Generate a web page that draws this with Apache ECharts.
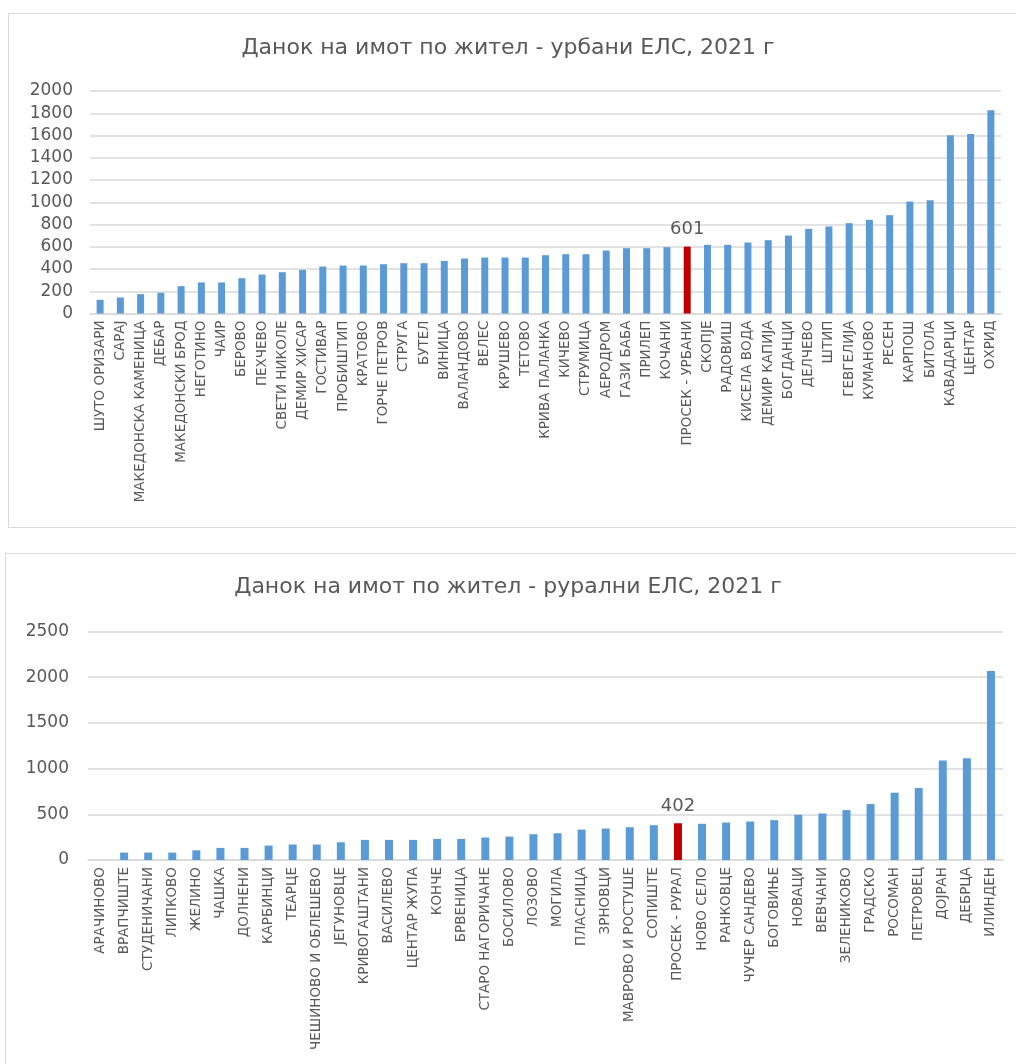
<!DOCTYPE html>
<html>
<head>
<meta charset="utf-8">
<script src="https://cdn.jsdelivr.net/npm/echarts@6/dist/echarts.min.js"></script>
<style>
  html, body { margin: 0; padding: 0; background: #fff; }
  #wrap { position: relative; width: 1016px; height: 1064px; overflow: hidden; }
  .panel { position: absolute; border: 1.5px solid #d9d9d9; box-sizing: border-box; }
  #chart { position: absolute; left: 0; top: 0; width: 1016px; height: 1064px; }
</style>
</head>
<body>
<div id="wrap">
  <div class="panel" style="left:8px; top:13px; width:1030px; height:515px;"></div>
  <div class="panel" style="left:5px; top:553px; width:1030px; height:540px;"></div>
  <div id="chart"></div>
</div>
<script>
// ---------- Data: urban municipalities ----------
const urbanTitle = 'Данок на имот по жител - урбани ЕЛС, 2021 г';
const urbanCategories = [
  'ШУТО ОРИЗАРИ', 'САРАЈ', 'МАКЕДОНСКА КАМЕНИЦА', 'ДЕБАР', 'МАКЕДОНСКИ БРОД',
  'НЕГОТИНО', 'ЧАИР', 'БЕРОВО', 'ПЕХЧЕВО', 'СВЕТИ НИКОЛЕ', 'ДЕМИР ХИСАР',
  'ГОСТИВАР', 'ПРОБИШТИП', 'КРАТОВО', 'ГОРЧЕ ПЕТРОВ', 'СТРУГА', 'БУТЕЛ',
  'ВИНИЦА', 'ВАЛАНДОВО', 'ВЕЛЕС', 'КРУШЕВО', 'ТЕТОВО', 'КРИВА ПАЛАНКА',
  'КИЧЕВО', 'СТРУМИЦА', 'АЕРОДРОМ', 'ГАЗИ БАБА', 'ПРИЛЕП', 'КОЧАНИ',
  'ПРОСЕК - УРБАНИ', 'СКОПЈЕ', 'РАДОВИШ', 'КИСЕЛА ВОДА', 'ДЕМИР КАПИЈА',
  'БОГДАНЦИ', 'ДЕЛЧЕВО', 'ШТИП', 'ГЕВГЕЛИЈА', 'КУМАНОВО', 'РЕСЕН',
  'КАРПОШ', 'БИТОЛА', 'КАВАДАРЦИ', 'ЦЕНТАР', 'ОХРИД'
];
const urbanValues = [
  123, 144, 174, 186, 246,
  279, 279, 317, 350, 371, 392,
  422, 431, 431, 443, 452, 452,
  473, 494, 503, 503, 503, 524,
  533, 533, 566, 587, 587, 596,
  601, 617, 617, 638, 659,
  701, 761, 782, 812, 842, 884,
  1006, 1018, 1602, 1614, 1827
];
const urbanAverageName = 'ПРОСЕК - УРБАНИ';
const urbanTicks = { min: 0, max: 2000, interval: 200 };

// ---------- Data: rural municipalities ----------
const ruralTitle = 'Данок на имот по жител - рурални ЕЛС, 2021 г';
const ruralCategories = [
  'АРАЧИНОВО', 'ВРАПЧИШТЕ', 'СТУДЕНИЧАНИ', 'ЛИПКОВО', 'ЖЕЛИНО', 'ЧАШКА',
  'ДОЛНЕНИ', 'КАРБИНЦИ', 'ТЕАРЦЕ', 'ЧЕШИНОВО И ОБЛЕШЕВО', 'ЈЕГУНОВЦЕ',
  'КРИВОГАШТАНИ', 'ВАСИЛЕВО', 'ЦЕНТАР ЖУПА', 'КОНЧЕ', 'БРВЕНИЦА',
  'СТАРО НАГОРИЧАНЕ', 'БОСИЛОВО', 'ЛОЗОВО', 'МОГИЛА', 'ПЛАСНИЦА', 'ЗРНОВЦИ',
  'МАВРОВО И РОСТУШЕ', 'СОПИШТЕ', 'ПРОСЕК - РУРАЛ', 'НОВО СЕЛО', 'РАНКОВЦЕ',
  'ЧУЧЕР САНДЕВО', 'БОГОВИЊЕ', 'НОВАЦИ', 'ВЕВЧАНИ', 'ЗЕЛЕНИКОВО', 'ГРАДСКО',
  'РОСОМАН', 'ПЕТРОВЕЦ', 'ДОЈРАН', 'ДЕБРЦА', 'ИЛИНДЕН'
];
const ruralValues = [
  0, 81, 81, 81, 106, 132,
  132, 158, 169, 169, 194,
  220, 220, 220, 231, 231,
  246, 256, 282, 293, 333, 344,
  359, 381, 402, 396, 410,
  421, 436, 495, 509, 546, 612,
  736, 788, 1088, 1113, 2069
];
const ruralAverageName = 'ПРОСЕК - РУРАЛ';
const ruralTicks = { min: 0, max: 2500, interval: 500 };

// ---------- Styling ----------
const BLUE = '#5B9BD5';
const RED = '#C00000';
const TEXT = '#595959';
const GRID = '#d9d9d9';
const FONT = '"DejaVu Sans", "Noto Sans", sans-serif';

function buildData(cats, vals, avgName) {
  return vals.map((v, i) => {
    if (cats[i] === avgName) {
      return {
        value: v,
        itemStyle: { color: RED },
        label: {
          show: true, position: 'top', distance: 8,
          color: TEXT, fontSize: 18, fontFamily: FONT
        }
      };
    }
    return v;
  });
}

const chart = echarts.init(document.getElementById('chart'), null, { renderer: 'canvas' });

function xAxisFor(gridIndex, cats) {
  return {
    type: 'category', gridIndex, data: cats,
    axisTick: { show: false },
    axisLine: { lineStyle: { color: GRID, width: 1.5 } },
    axisLabel: {
      interval: 0, rotate: 90, margin: 7,
      color: TEXT, fontSize: 13.5, fontFamily: FONT
    }
  };
}
function yAxisFor(gridIndex, t, margin) {
  return {
    type: 'value', gridIndex, min: t.min, max: t.max, interval: t.interval,
    axisLine: { show: false }, axisTick: { show: false },
    splitLine: { lineStyle: { color: GRID, width: 1.5 } },
    axisLabel: { color: TEXT, fontSize: 17, fontFamily: FONT, margin,
      formatter: (v) => String(v) }
  };
}

chart.setOption({
  animation: false,
  title: [
    { text: urbanTitle, left: 'center', top: 32,
      textStyle: { color: TEXT, fontSize: 22, fontWeight: 'normal', fontFamily: FONT } },
    { text: ruralTitle, left: 'center', top: 571,
      textStyle: { color: TEXT, fontSize: 22, fontWeight: 'normal', fontFamily: FONT } }
  ],
  grid: [
    { left: 90, right: 15, top: 91, height: 222.5 },
    { left: 88, right: 13, top: 631.5, height: 228.5 }
  ],
  xAxis: [xAxisFor(0, urbanCategories), xAxisFor(1, ruralCategories)],
  yAxis: [yAxisFor(0, urbanTicks, 17), yAxisFor(1, ruralTicks, 19)],
  series: [
    { type: 'bar', xAxisIndex: 0, yAxisIndex: 0, barWidth: 7,
      itemStyle: { color: BLUE },
      data: buildData(urbanCategories, urbanValues, urbanAverageName) },
    { type: 'bar', xAxisIndex: 1, yAxisIndex: 1, barWidth: 8,
      itemStyle: { color: BLUE },
      data: buildData(ruralCategories, ruralValues, ruralAverageName) }
  ]
});
</script>
</body>
</html>
